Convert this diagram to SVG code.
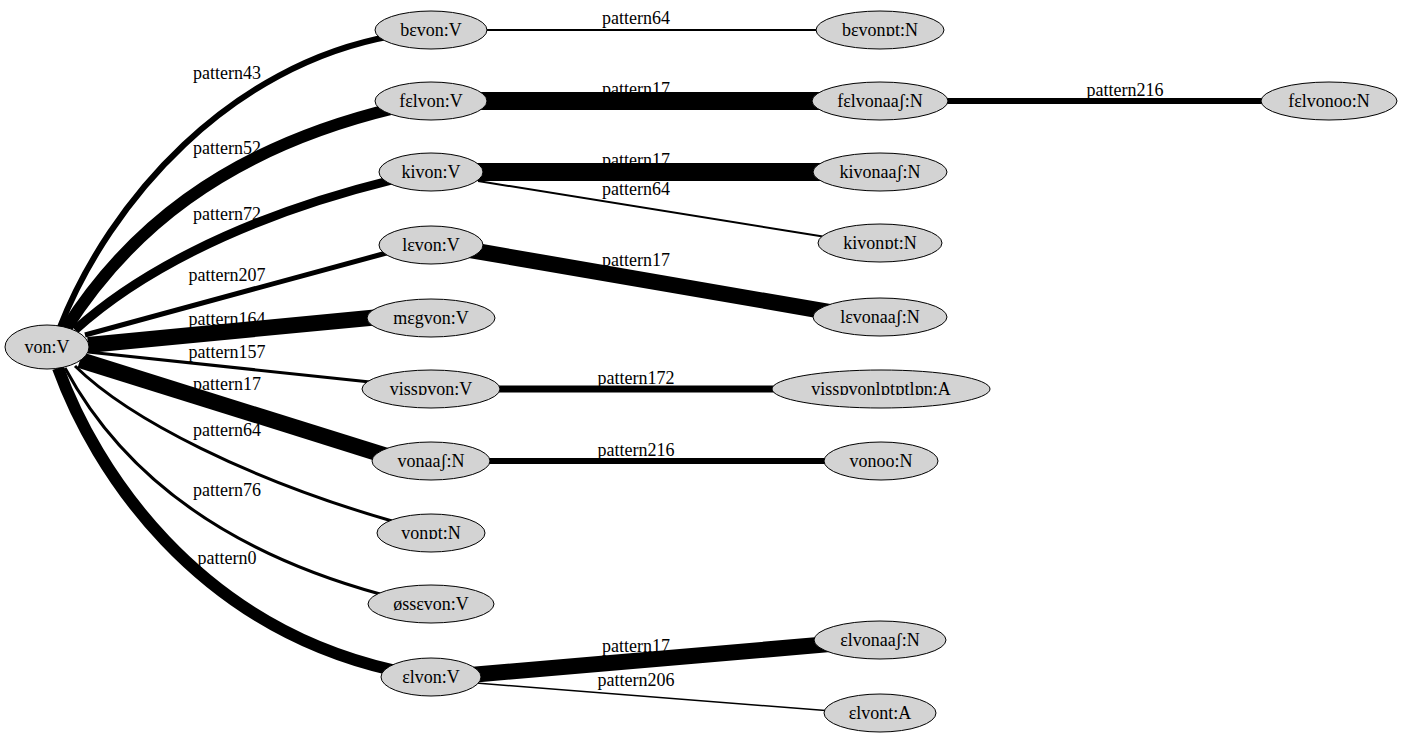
<svg xmlns="http://www.w3.org/2000/svg" width="1403" height="743" viewBox="0 0 1403 743" font-family="Liberation Serif" font-size="18">
<style>
text{fill:#000;text-anchor:middle}
.n ellipse{fill:#d3d3d3;stroke:#000;stroke-width:1}
.e{fill:none;stroke:#000}
</style>
<rect width="1403" height="743" fill="#fff"/>
<g id="connectors">
<g id="edge-labels">
<text x="227" y="79">pattern43</text>
<text x="227" y="154">pattern52</text>
<text x="227" y="220">pattern72</text>
<text x="227" y="281">pattern207</text>
<text x="227" y="325">pattern164</text>
<text x="227" y="358">pattern157</text>
<text x="227" y="390">pattern17</text>
<text x="227" y="436">pattern64</text>
<text x="227" y="496">pattern76</text>
<text x="227" y="564">pattern0</text>
<text x="636" y="24">pattern64</text>
<text x="636" y="95">pattern17</text>
<text x="1125" y="96">pattern216</text>
<text x="636" y="166">pattern17</text>
<text x="636" y="195">pattern64</text>
<text x="636" y="266">pattern17</text>
<text x="636" y="384">pattern172</text>
<text x="636" y="456">pattern216</text>
<text x="636" y="652">pattern17</text>
<text x="636" y="686">pattern206</text>
</g>
<path class="e" stroke-width="6" d="M60,327 C110,200 230,65 392,36"/>
<path class="e" stroke-width="12" d="M65,330 C125,235 220,150 395,108"/>
<path class="e" stroke-width="9" d="M75,330 C130,280 230,220 392,180"/>
<path class="e" stroke-width="5" d="M85,335 L390,252"/>
<path class="e" stroke-width="16" d="M88,345 L380,317"/>
<path class="e" stroke-width="3" d="M88,352 L370,382"/>
<path class="e" stroke-width="16" d="M80,360 L390,457"/>
<path class="e" stroke-width="3" d="M75,366 C130,420 250,480 392,521"/>
<path class="e" stroke-width="3" d="M65,368 C120,470 220,550 380,594"/>
<path class="e" stroke-width="12" d="M58,368 C95,470 195,625 392,670"/>
<path class="e" stroke-width="2" d="M480,30 L822,30"/>
<path class="e" stroke-width="18" d="M480,101 L820,101"/>
<path class="e" stroke-width="6" d="M940,101 L1268,101"/>
<path class="e" stroke-width="18" d="M476,172 L820,172"/>
<path class="e" stroke-width="2" d="M478,181 L826,237"/>
<path class="e" stroke-width="16" d="M470,250 L835,313"/>
<path class="e" stroke-width="7" d="M495,389 L780,389"/>
<path class="e" stroke-width="6" d="M485,461 L830,461"/>
<path class="e" stroke-width="16" d="M470,675 L830,644"/>
<path class="e" stroke-width="1.5" d="M476,683 L832,711"/>
</g>
<g id="n-von" class="n"><ellipse cx="47" cy="347" rx="42" ry="22"/><text x="47" y="353">von:V</text></g>
<g id="n-bevon" class="n"><ellipse cx="431" cy="30" rx="56" ry="19"/><text x="431" y="36">bεvon:V</text></g>
<g id="n-bevonot" class="n"><ellipse cx="880" cy="30" rx="64" ry="19"/><text x="880" y="36">bεvonɒt:N</text></g>
<g id="n-felvon" class="n"><ellipse cx="431" cy="101" rx="56" ry="19"/><text x="431" y="107">fεlvon:V</text></g>
<g id="n-felvonaash" class="n"><ellipse cx="880" cy="101" rx="68" ry="19"/><text x="880" y="107">fεlvonaaʃ:N</text></g>
<g id="n-felvonoo" class="n"><ellipse cx="1329" cy="101" rx="68" ry="19"/><text x="1329" y="107">fεlvonoo:N</text></g>
<g id="n-kivon" class="n"><ellipse cx="431" cy="172" rx="52" ry="19"/><text x="431" y="178">kivon:V</text></g>
<g id="n-kivonaash" class="n"><ellipse cx="880" cy="172" rx="67" ry="19"/><text x="880" y="178">kivonaaʃ:N</text></g>
<g id="n-kivonot" class="n"><ellipse cx="880" cy="243" rx="62" ry="19"/><text x="880" y="249">kivonɒt:N</text></g>
<g id="n-levon" class="n"><ellipse cx="431" cy="245" rx="52" ry="19"/><text x="431" y="251">lεvon:V</text></g>
<g id="n-levonaash" class="n"><ellipse cx="880" cy="317" rx="67" ry="19"/><text x="880" y="323">lεvonaaʃ:N</text></g>
<g id="n-megvon" class="n"><ellipse cx="431" cy="318" rx="64" ry="19"/><text x="431" y="324">mεgvon:V</text></g>
<g id="n-vissovon" class="n"><ellipse cx="431" cy="389" rx="69" ry="19"/><text x="431" y="395">vissɒvon:V</text></g>
<g id="n-vissovonlototlon" class="n"><ellipse cx="881" cy="389" rx="109" ry="19"/><text x="881" y="395">vissɒvonlɒtɒtlɒn:A</text></g>
<g id="n-vonaash" class="n"><ellipse cx="431" cy="461" rx="59" ry="19"/><text x="431" y="467">vonaaʃ:N</text></g>
<g id="n-vonoo" class="n"><ellipse cx="881" cy="461" rx="57" ry="19"/><text x="881" y="467">vonoo:N</text></g>
<g id="n-vonot" class="n"><ellipse cx="431" cy="533" rx="54" ry="19"/><text x="431" y="539">vonɒt:N</text></g>
<g id="n-ossevon" class="n"><ellipse cx="431" cy="604" rx="63" ry="19"/><text x="431" y="610">øssεvon:V</text></g>
<g id="n-elvon" class="n"><ellipse cx="431" cy="677" rx="50" ry="19"/><text x="431" y="683">εlvon:V</text></g>
<g id="n-elvonaash" class="n"><ellipse cx="880" cy="640" rx="66" ry="19"/><text x="880" y="646">εlvonaaʃ:N</text></g>
<g id="n-elvont" class="n"><ellipse cx="880" cy="713" rx="56" ry="19"/><text x="880" y="719">εlvont:A</text></g>
</svg>
